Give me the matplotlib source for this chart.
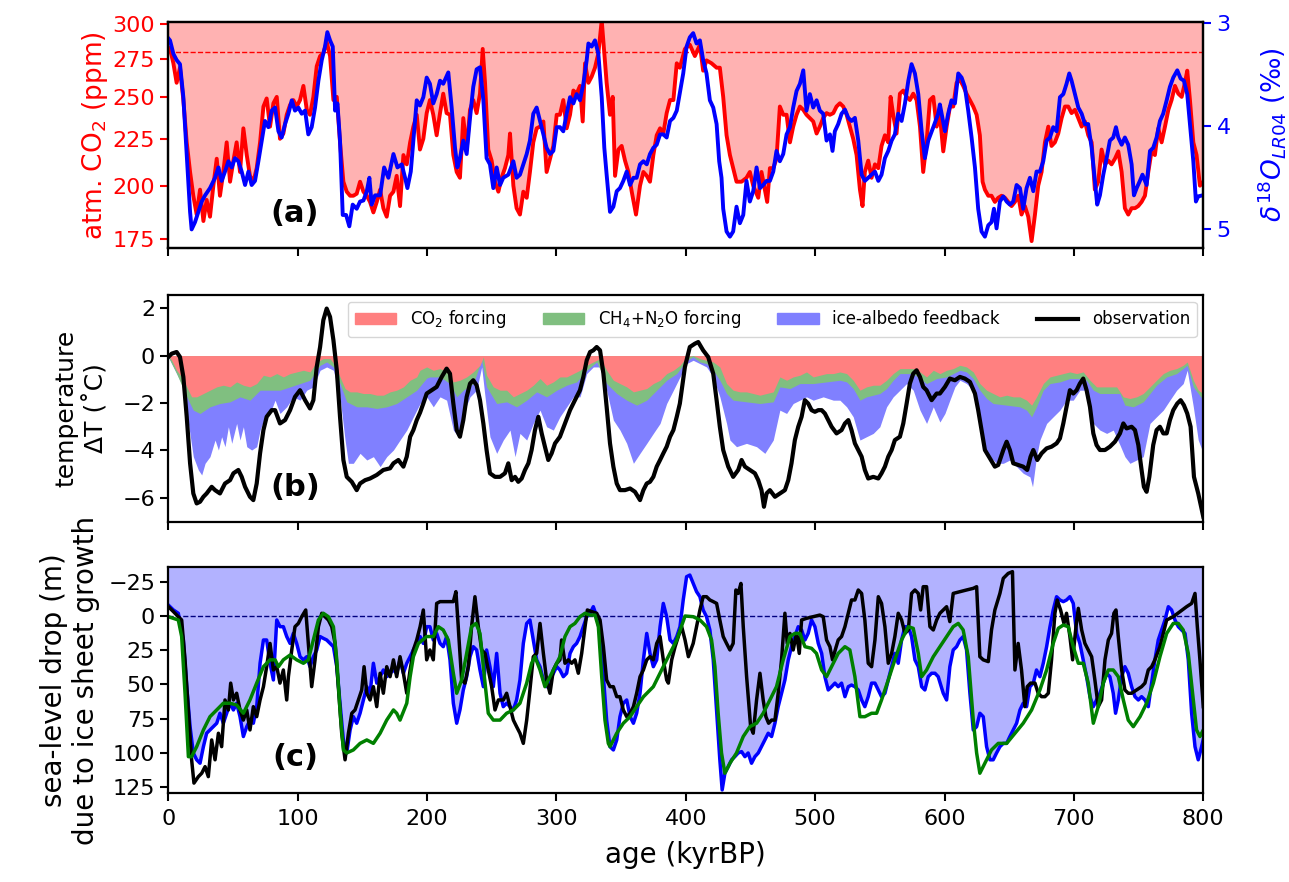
import numpy as np
import matplotlib
matplotlib.use("Agg")
import matplotlib.pyplot as plt
from matplotlib.ticker import NullLocator, FixedLocator, FixedFormatter
from matplotlib.patches import Patch
from matplotlib.lines import Line2D

# ---------------- panel (a): atmospheric CO2 (ppm) ----------------
co2_ppm = [
(0,283),(1.3,282),(3.9,272),(6.4,259),(9.0,269),(11.6,248),(14.2,223),(16.8,207),(19.3,195),(21.9,186),
(24.5,198),(27.1,183),(29.6,193),(32.2,185),(34.8,200),(37.4,214),(39.9,195),(42.5,207),(45.1,223),(47.7,202),
(50.3,213),(52.8,223),(55.4,207),(58.0,231),(60.6,216),(63.1,205),(65.7,202),(68.3,209),(70.9,223),(73.5,244),
(76.0,249),(78.6,232),(81.2,246),(83.8,250),(86.3,225),(88.9,228),(91.5,239),(94.1,245),(96.6,248),(99.2,244),
(101.8,248),(104.4,257),(107.0,242),(109.5,239),(112.1,250),(114.7,270),(117.3,277),(119.8,279),(122.4,287),(125.0,277),
(127.6,248),(130.2,250),(132.7,223),(135.3,202),(137.9,197),(140.5,195),(143.0,195),(145.6,196),(148.2,202),(150.8,197),
(153.4,195),(155.9,192),(158.5,187),(161.1,192),(163.7,198),(166.2,189),(168.8,185),(171.4,195),(174.0,197),(176.5,205),
(179.1,190),(181.7,216),(184.3,211),(186.9,223),(189.4,232),(192.0,239),
(194.5,219),(197.1,225),(199.7,240),(202.2,248),(204.8,239),(207.4,227),(210.0,240),(212.5,252),(215.1,240),(217.7,239),
(220.3,216),(222.9,207),(225.4,204),(228.0,237),(230.6,219),(233.2,242),(235.7,248),(238.3,240),(240.9,252),(243.0,282),
(244.8,259),(247.3,219),(249.9,213),(252.5,202),(255.1,197),(257.6,204),(260.2,209),(262.8,216),(264.1,228),(266.7,200),
(269.2,189),(271.8,186),(274.4,197),(277.0,194),(279.5,207),(282.1,223),(284.7,231),(287.3,232),(289.9,235),(292.4,207),
(295.0,214),(297.6,221),(300.2,239),(302.7,239),(305.3,248),(307.9,231),(310.5,239),(313.1,254),(315.6,252),(318.2,257),
(320.3,235),(322.1,272),(324.7,259),(327.2,263),(329.8,269),(332.4,279),(335.0,303),(336.3,287),(338.8,259),(341.4,239),
(343.5,250),(345.3,205),(347.9,219),(350.4,221),(353.0,213),(355.6,207),(358.2,197),(361.5,186),(364.6,200),(367.2,207),
(369.8,205),(372.3,202),(374.9,216),(377.5,227),(380.1,231),(382.6,228),(385.2,240),(387.8,248),(390.4,248),(393.0,272),
(395.4,269),(399.3,282),(403.1,285),(407.0,277),(410.9,285),(413.4,267),(416.0,274),(419.9,272),(423.8,269),(426.3,269),
(428.9,250),(431.5,227),(434.1,216),(436.6,209),(439.2,202),(443.1,202),(446.9,204),(449.5,207),(452.1,200),(456.0,194),
(458.5,207),(461.1,198),(462.9,192),(465.0,209),(467.6,209),(470.1,214),(472.7,244),(475.3,239),(477.9,239),(480.5,223),
(483.0,232),(485.6,239),(488.2,244),(490.8,242),(493.3,239),(495.9,237),(498.5,235),(501.1,228),(503.6,232),(506.2,237),
(508.8,240),(511.4,239),(514.0,240),(516.5,244),(519.1,246),(521.7,244),(524.3,239),(526.8,232),(529.4,225),(532.0,216),
(534.6,198),(536.6,190),(538.4,207),(541.0,213),(543.6,204),(546.2,211),(548.8,209),(551.3,221),(553.9,227),(556.5,223),
(558.3,250),(560.3,239),(562.9,228),(565.5,252),(568.1,254),(570.7,250),(573.2,248),(575.8,252),(578.4,248),(581.0,232),
(583.5,207),(586.1,223),(588.7,248),(591.3,250),(593.9,232),
(596.4,239),(599.0,218),(601.6,232),(604.2,244),(606.7,244),(609.3,259),(611.9,261),(614.4,257),(617.0,252),(619.6,248),
(622.2,244),(624.8,239),(627.3,227),(629.4,202),(631.2,198),(633.8,195),(636.3,195),(638.9,192),(641.5,194),(644.1,195),
(646.7,194),(649.2,192),(651.8,190),(654.4,192),(657.0,195),(659.5,186),(662.1,190),(664.7,185),(667.3,174),(669.9,186),
(672.4,200),(675.0,207),(677.6,223),(680.2,232),(682.7,221),(685.3,223),(687.9,228),(690.5,237),(693.1,244),(695.6,244),
(698.2,240),(700.8,242),(703.4,237),(706.0,232),(708.5,235),(711.1,227),(713.7,223),(716.2,198),(718.8,202),(721.4,219),
(724.0,211),(726.6,213),(729.1,211),(731.7,214),(734.3,218),(736.9,207),(739.4,189),(742.0,186),(744.6,189),(747.2,189),
(749.7,190),(752.3,192),(754.9,195),(757.5,207),(760.0,218),(762.6,216),(765.2,231),(767.8,223),(770.4,232),(773.0,242),
(775.5,248),(778.1,257),(780.7,252),(783.3,250),(785.8,259),(787.6,267),(789.7,248),(792.3,223),(794.8,216),(797.4,200),
(800.0,202)]

# ---------------- panel (a): benthic d18O LR04 (permil) ----------------
d18o_lr04 = [
(0,3.15),(1.3,3.17),(3.9,3.3),(6.4,3.36),(9.0,3.4),(11.6,3.72),(14.2,4.27),(16.8,4.83),(18.0,5.0),(20.6,4.93),
(23.2,4.83),(25.8,4.73),(28.4,4.67),(32.2,4.6),(36.1,4.5),(38.7,4.4),(41.2,4.53),(43.8,4.44),(46.4,4.34),(49.0,4.4),
(51.5,4.31),(54.1,4.34),(56.7,4.44),(59.3,4.57),(61.9,4.44),(64.4,4.57),(67.0,4.53),(69.6,4.34),(72.2,4.14),(74.7,3.95),
(77.3,4.01),(79.9,3.85),(82.5,3.82),(85.1,4.05),(87.6,4.11),(90.2,3.98),(92.8,3.88),(95.4,3.75),(97.9,3.85),(100.5,3.82),
(103.1,3.88),(105.7,3.85),(108.2,4.08),(110.8,4.01),(113.4,3.82),(116.0,3.56),(118.6,3.36),(121.1,3.23),(122.9,3.09),(125.0,3.17),
(127.1,3.23),(128.9,3.85),(130.7,3.78),(132.7,4.14),(134.8,4.86),(137.4,4.86),(139.9,4.97),(142.5,4.76),(145.6,4.8),(148.2,4.73),
(150.8,4.72),(153.4,4.63),(155.4,4.5),(157.2,4.76),(159.8,4.67),(163.7,4.67),(166.8,4.4),(170.1,4.5),(174.0,4.27),(177.1,4.4),
(180.4,4.37),(183.0,4.5),(184.8,4.6),(187.4,4.44),(189.4,4.14),(192.0,3.75),
(194.5,3.8),(197.1,3.72),(199.7,3.53),(202.2,3.59),(204.8,3.78),(207.4,3.69),(210.0,3.56),(212.5,3.59),(216.4,3.48),(219.0,3.82),
(221.6,4.21),(223.4,4.4),(225.4,4.31),(228.0,4.14),(230.6,4.27),(233.2,3.92),(235.7,3.62),(238.3,3.45),(240.9,3.43),(243.5,3.75),
(246.0,4.31),(248.6,4.37),(251.2,4.6),(253.8,4.4),(256.4,4.57),(258.9,4.5),(262.8,4.47),(266.7,4.34),(269.2,4.5),(271.8,4.47),
(274.4,4.37),(277.0,4.27),(279.5,4.14),(282.1,3.88),(284.7,3.82),(287.3,3.95),(289.9,4.08),(292.4,4.21),(295.0,4.27),(297.6,4.24),
(300.2,4.01),(302.7,4.01),(305.3,4.05),(307.9,3.88),(310.5,3.72),(313.1,3.78),(315.6,3.69),(318.2,3.75),(320.8,3.59),(323.4,3.36),
(324.7,3.2),(327.2,3.23),(329.8,3.17),(332.4,3.3),(335.0,3.72),(337.0,4.21),(338.8,4.47),(341.4,4.83),(344.0,4.78),(346.6,4.63),
(349.1,4.6),(351.7,4.53),(354.3,4.44),(356.9,4.57),(359.5,4.5),(362.0,4.5),(364.6,4.37),(367.2,4.34),(369.8,4.37),(372.3,4.27),
(374.9,4.21),(377.5,4.18),(380.1,4.08),(382.6,4.08),(385.2,4.11),(387.8,3.95),(390.4,3.92),(393.0,3.85),
(398.0,3.49),(400.6,3.23),(403.1,3.14),(405.7,3.1),(408.3,3.2),(410.9,3.17),(413.4,3.36),(416.0,3.49),(418.6,3.75),(421.2,3.82),
(423.8,3.98),(425.8,4.34),(427.6,4.5),(428.9,4.8),(431.5,5.02),(434.1,5.07),(436.6,5.02),(439.2,4.78),(441.8,4.94),(444.4,4.86),
(446.9,4.53),(449.5,4.73),(452.1,4.63),(454.7,4.4),(457.3,4.6),(459.8,4.57),(462.4,4.53),(465.0,4.53),(467.6,4.44),(470.1,4.24),
(472.7,4.34),(475.3,4.27),(477.9,4.08),(480.5,4.01),(483.0,3.82),(485.6,3.66),(488.2,3.59),(490.8,3.46),(493.3,3.85),(495.9,3.69),
(498.5,3.82),(501.1,3.75),(503.6,3.85),(506.2,3.88),(508.8,4.14),(511.4,4.08),(513.4,4.24),(515.2,4.05),(517.8,3.98),(520.4,3.88),
(523.0,3.84),(525.6,3.92),(528.1,3.95),(530.7,3.92),(533.3,4.14),(535.9,4.47),(538.4,4.53),(541.0,4.5),(543.6,4.47),(546.2,4.44),
(548.8,4.53),(551.3,4.47),(553.9,4.31),(556.5,4.24),(559.1,4.14),(561.6,4.08),(564.2,3.88),(566.8,3.95),(569.4,3.78),(572.0,3.56),
(574.5,3.4),(577.1,3.49),(579.7,3.69),(582.3,4.05),(584.8,4.31),(587.4,4.14),(591.3,4.01),(595.1,3.88),
(596.4,3.79),(600.3,4.05),(602.8,3.88),(605.4,3.75),(608.0,3.78),(610.6,3.49),(613.2,3.53),(615.7,3.62),(618.3,3.85),(620.9,4.11),
(623.5,4.4),(626.0,4.8),(628.6,5.02),(631.2,5.07),(633.8,4.96),(636.3,4.93),(638.2,4.8),(640.2,4.99),(642.8,4.73),(645.4,4.68),
(648.0,4.73),(650.5,4.76),(653.1,4.73),(655.7,4.57),(658.3,4.6),(660.8,4.8),(663.4,4.6),(666.0,4.5),(668.6,4.63),(671.1,4.44),
(673.7,4.44),(676.3,4.34),(678.9,4.14),(681.5,4.11),(684.0,4.01),(686.6,4.05),(689.2,3.72),(691.8,3.69),(694.3,3.59),(696.4,3.49),
(698.2,3.56),(700.8,3.69),(703.4,3.82),(706.0,3.88),(708.5,3.98),(711.0,3.98),(713.7,4.21),(716.2,4.53),(718.0,4.76),(720.1,4.67),
(722.7,4.47),(725.3,4.31),(727.8,4.14),(730.4,4.11),(732.5,4.01),(734.3,4.11),(736.9,4.18),(739.4,4.11),(742.0,4.18),(744.6,4.37),
(746.4,4.67),(748.5,4.6),(751.0,4.53),(753.0,4.47),(756.2,4.57),(758.8,4.24),(761.3,4.21),(763.9,4.11),(766.5,3.95),(769.0,3.88),
(771.7,3.75),(774.2,3.62),(776.8,3.53),(779.9,3.46),(782.5,3.54),(785.0,3.56),(787.6,3.69),(790.2,4.05),(792.3,4.34),(794.3,4.73),
(796.1,4.68),(799.5,4.67),(800.0,4.67)]

# ---------------- panel (b): temperature (deg C) ----------------
# cumulative lower edges of the stacked contributions
dT_co2_edge = [
(0,0),(2.6,-0.2),(6.4,-0.62),(10.3,-0.9),(14.2,-1.32),(18.0,-1.74),(21.9,-1.74),(27.1,-1.6),(32.2,-1.46),(37.4,-1.32),
(42.5,-1.25),(47.7,-1.32),(52.8,-1.11),(58.0,-1.25),(63.1,-1.32),(68.3,-1.18),(73.5,-0.83),(78.6,-0.9),(83.8,-0.76),(88.9,-0.9),
(94.1,-0.76),(99.2,-0.69),(104.4,-0.62),(109.5,-0.69),(114.7,-0.27),(119.8,-0.13),(125.0,-0.13),(128.9,-0.41),(132.7,-0.9),(136.6,-1.39),
(140.5,-1.53),(145.6,-1.53),(150.8,-1.6),(155.9,-1.6),(161.1,-1.67),(166.2,-1.67),(171.4,-1.53),(176.5,-1.46),(181.7,-1.32),(186.9,-1.04),
(192.0,-0.9),(194.5,-0.62),(199.7,-0.48),(204.8,-0.62),(210.0,-0.55),(215.1,-0.69),(220.3,-1.11),(225.4,-1.04),(230.6,-0.9),(235.7,-0.69),
(240.9,-0.41),(243.5,-0.06),(246.0,-0.83),(251.2,-1.32),(256.4,-1.46),(261.5,-1.46),(266.7,-1.74),(271.8,-1.6),(277.0,-1.46),(282.1,-1.25),
(287.3,-0.97),(292.4,-1.25),(297.6,-1.11),(302.7,-0.9),(307.9,-0.9),(313.1,-0.76),(318.2,-0.62),(323.4,-0.41),(328.5,-0.27),(333.7,-0.13),
(338.8,-0.62),(344.0,-1.04),(349.1,-1.18),(354.3,-1.32),(359.5,-1.53),(364.6,-1.46),(369.8,-1.39),(374.9,-1.18),(380.1,-1.04),(385.2,-0.76),
(390.4,-0.62),(395.5,-0.41),(400.6,-0.06),(405.7,0.0),(410.9,-0.13),(416.0,-0.2),(421.2,-0.27),(426.3,-0.48),(431.5,-1.18),(436.6,-1.46),
(441.8,-1.53),(446.9,-1.53),(452.1,-1.6),(457.3,-1.67),(462.4,-1.6),(467.6,-1.53),(472.7,-0.9),(477.9,-1.04),(483.0,-0.9),(488.2,-0.83),
(493.3,-0.69),(498.5,-0.9),(503.6,-0.83),(508.8,-0.76),(514.0,-0.76),(519.1,-0.69),(524.3,-0.76),(529.4,-1.04),(534.6,-1.46),(539.7,-1.32),
(544.9,-1.25),(550.0,-1.25),(555.2,-1.04),(560.3,-0.76),(565.5,-0.55),(570.7,-0.55),(575.8,-0.55),(581.0,-0.69),(586.1,-0.9),(591.3,-0.62),
(596.4,-0.76),(601.6,-0.62),(606.7,-0.55),(611.9,-0.41),(617.0,-0.48),(622.2,-0.69),(627.3,-1.18),(632.5,-1.46),(637.6,-1.6),(642.8,-1.74),
(648.0,-1.67),(653.1,-1.74),(658.3,-1.74),(663.4,-1.88),(667.3,-2.09),(671.1,-1.74),(676.3,-1.18),(681.5,-0.9),(686.6,-0.83),(691.8,-0.76),
(696.9,-0.69),(702.1,-0.76),(707.2,-0.69),(712.4,-1.04),(717.5,-1.32),(722.7,-1.32),(727.8,-1.32),(733.0,-1.32),(738.2,-1.74),(743.3,-1.81),
(748.5,-1.74),(753.6,-1.6),(758.8,-1.32),(763.9,-1.04),(769.1,-0.76),(774.2,-0.62),(779.4,-0.55),(784.5,-0.41),(787.6,-0.27),(792.3,-1.04),
(796.1,-1.46),(800.0,-1.6)]

dT_ghg_edge = [
(0,-0.06),(6.4,-0.76),(14.2,-1.74),(19.3,-2.3),(24.5,-2.44),(32.2,-2.16),(39.9,-2.02),(47.7,-1.95),(55.4,-1.74),(63.1,-1.88),
(70.9,-1.46),(78.6,-1.46),(86.3,-1.46),(94.1,-1.32),(101.8,-1.18),(109.5,-1.04),(117.3,-0.41),(122.4,-0.27),(127.6,-0.48),(132.7,-1.18),
(137.9,-1.95),(145.6,-2.16),(153.4,-2.16),(161.1,-2.23),(168.8,-2.16),(176.5,-2.02),(184.3,-1.74),(192.0,-1.46),(199.7,-0.95),(202.2,-0.9),
(210.0,-0.9),(217.7,-1.18),(222.9,-1.74),(228.0,-1.46),(235.7,-1.18),(242.2,-0.2),(246.0,-1.32),(253.8,-2.02),(261.5,-1.95),(269.2,-2.16),
(277.0,-1.88),(284.7,-1.53),(292.4,-1.74),(300.2,-1.46),(307.9,-1.25),(315.6,-1.11),(323.4,-0.62),(331.1,-0.27),(338.8,-1.18),(346.6,-1.6),
(354.3,-1.88),(362.0,-2.09),(369.8,-1.88),(377.5,-1.46),(385.2,-1.04),(393.0,-0.76),(400.6,-0.2),(405.7,-0.06),(410.9,-0.27),(416.0,-0.34),
(421.2,-0.62),(426.3,-1.04),(431.5,-1.6),(436.6,-1.88),(446.9,-1.95),(457.3,-2.02),(467.6,-1.95),(472.7,-1.32),(480.5,-1.39),(488.2,-1.18),
(498.5,-1.18),(508.8,-1.11),(519.1,-1.04),(524.3,-1.11),(529.4,-1.39),(534.6,-1.88),(539.7,-1.74),(550.0,-1.6),(555.2,-1.39),(560.3,-1.04),
(565.5,-0.76),(575.8,-0.76),(586.1,-1.18),(593.9,-0.97),(601.6,-0.9),(606.7,-0.76),(611.9,-0.62),(617.0,-0.69),(622.2,-0.97),(627.3,-1.46),
(632.5,-1.81),(637.6,-2.02),(648.0,-2.09),(658.3,-2.16),(663.4,-2.3),(667.3,-2.58),(671.1,-2.16),(676.3,-1.46),(681.5,-1.18),(689.2,-1.11),
(696.9,-0.97),(704.6,-0.97),(709.8,-1.04),(715.0,-1.46),(720.1,-1.6),(727.8,-1.6),(735.6,-1.6),(739.4,-2.09),(745.9,-2.16),(753.6,-1.95),
(758.8,-1.6),(763.9,-1.25),(771.7,-0.9),(779.4,-0.76),(787.6,-0.41),(792.3,-1.32),(800.0,-1.88)]

dT_ice_edge = [
(0,-0.06),(3.9,-0.48),(7.7,-0.9),(11.6,-1.32),(15.5,-2.86),(19.3,-4.26),(23.2,-4.82),(25.8,-5.03),(28.4,-4.54),(32.2,-4.26),
(36.1,-3.56),(38.7,-3.98),(41.2,-3.42),(43.8,-3.84),(46.4,-3.0),(49.0,-3.7),(52.8,-2.86),(55.4,-3.56),(58.0,-3.0),(60.6,-3.84),
(64.4,-3.98),(68.3,-3.84),(70.9,-3.14),(74.7,-2.58),(78.6,-2.44),(82.5,-1.88),(86.3,-2.44),(91.5,-2.16),(96.6,-1.74),(101.8,-1.88),
(107.0,-1.46),(112.1,-1.32),(117.3,-0.62),(122.4,-0.48),(127.6,-0.62),(132.7,-1.74),(136.6,-3.56),(139.2,-4.54),(143.0,-4.54),(148.2,-4.12),
(153.4,-4.4),(158.5,-4.26),(163.7,-4.68),(168.8,-4.26),(174.0,-3.98),(179.1,-3.56),(184.3,-3.14),(189.4,-2.58),(194.6,-2.02),(199.7,-1.74),
(204.8,-2.16),(210.0,-1.74),(215.1,-1.88),(220.3,-3.14),(224.1,-3.42),(228.0,-2.44),(233.2,-1.74),(238.3,-1.46),(242.2,-0.48),(244.8,-1.74),
(248.6,-3.42),(253.8,-4.12),(258.9,-3.56),(264.1,-3.14),(268.0,-4.26),(271.8,-3.28),(277.0,-3.56),(282.1,-2.86),(287.3,-2.3),(292.4,-3.0),
(297.6,-3.14),(302.7,-2.58),(307.9,-2.16),(313.1,-1.74),(318.2,-1.74),(323.4,-0.76),(328.5,-0.48),(333.7,-0.48),(338.8,-1.46),(344.0,-2.72),
(349.1,-3.14),(354.3,-3.7),(359.5,-4.54),(364.6,-4.12),(369.8,-3.7),(374.9,-3.28),(380.1,-2.86),(385.2,-2.02),(390.4,-1.46),(395.5,-0.9),
(400.6,-0.34),(405.7,-0.2),(410.9,-0.34),(416.0,-0.48),(421.2,-0.9),(426.3,-1.74),(431.5,-2.86),(434.1,-3.56),(439.2,-3.84),(446.9,-3.7),
(454.7,-3.84),(461.1,-4.12),(467.6,-3.56),(472.7,-2.3),(477.9,-2.44),(483.0,-2.02),(488.2,-1.88),(493.3,-1.74),(498.5,-1.88),(506.2,-1.74),
(514.0,-1.88),(519.1,-1.88),(524.3,-2.16),(529.4,-2.58),(534.6,-3.56),(539.7,-3.42),(544.9,-3.28),(550.0,-3.0),(555.2,-2.16),(560.3,-1.74),
(565.5,-1.46),(570.7,-1.18),(575.8,-1.46),(581.0,-2.3),(586.1,-2.86),(591.3,-2.16),(596.4,-2.8),(600.3,-2.44),(604.1,-1.88),(608.0,-1.32),
(611.9,-1.04),(617.0,-1.18),(622.2,-1.46),(627.3,-2.58),(631.2,-3.98),(635.1,-4.26),(640.2,-4.54),(645.4,-4.54),(650.5,-4.4),(655.7,-4.68),
(660.8,-4.96),(666.0,-5.11),(668.0,-5.53),(671.1,-4.26),(673.7,-3.56),(678.9,-2.86),(684.0,-2.58),(689.2,-2.3),(694.3,-1.88),(699.5,-1.88),
(704.6,-1.46),(709.8,-1.46),(715.0,-2.86),(720.1,-3.14),(725.3,-3.28),(730.4,-3.14),(735.6,-3.77),(739.4,-4.26),(743.3,-4.54),(748.5,-4.4),
(753.6,-4.26),(758.8,-2.86),(763.9,-2.58),(769.1,-2.3),(774.2,-1.88),(779.4,-1.46),(784.5,-1.18),(787.6,-0.62),(792.3,-2.16),(796.1,-3.56),
(800.0,-4.12)]

dT_observation = [
(0,-0.06),(2.6,0.08),(6.4,0.15),(9.0,-0.06),(11.6,-0.9),(14.2,-2.58),(16.8,-4.54),(19.3,-5.81),(21.9,-6.23),(24.5,-6.16),
(27.1,-5.95),(29.6,-5.81),(33.5,-5.53),(36.1,-5.67),(39.9,-5.81),(43.8,-5.39),(47.7,-5.25),(50.3,-4.96),(54.1,-4.82),(56.7,-5.11),
(59.3,-5.53),(63.1,-5.95),(65.7,-6.09),(68.3,-5.39),(70.9,-4.12),(73.5,-3.14),(76.0,-2.58),(79.9,-2.3),(82.5,-2.3),(86.3,-2.86),
(90.2,-2.72),(94.1,-2.3),(97.9,-1.74),(101.8,-1.46),(105.7,-1.88),(109.5,-2.23),(112.1,-1.88),(114.7,-0.48),(117.3,0.36),(119.8,1.49),
(122.4,1.98),(125.0,1.63),(127.6,0.65),(130.2,-0.62),(132.7,-2.58),(135.3,-4.4),(137.9,-5.11),(141.8,-5.32),(145.6,-5.67),(148.2,-5.39),
(152.1,-5.25),(155.9,-5.18),(161.1,-5.03),(166.2,-4.82),(171.4,-4.75),(174.0,-4.54),(177.8,-4.4),(181.7,-4.68),(184.3,-4.26),(186.9,-3.42),
(189.4,-3.14),(192.0,-2.72),(194.6,-2.4),(197.1,-2.02),(199.7,-1.6),(203.5,-1.46),(207.4,-1.32),(211.3,-0.9),(215.1,-0.55),(217.7,-0.76),
(220.3,-2.02),(222.9,-3.14),(225.4,-3.42),(228.0,-2.72),(230.6,-1.74),(233.2,-1.18),(235.7,-1.04),(238.3,-1.25),(240.9,-1.88),(243.5,-2.86),
(246.0,-3.98),(248.6,-4.96),(252.5,-5.11),(256.4,-5.11),(260.2,-4.96),(262.8,-4.54),(265.4,-5.25),(268.0,-5.11),(270.5,-5.32),(273.1,-5.18),
(275.7,-4.82),(278.3,-4.54),(280.8,-3.98),(283.4,-3.14),(286.0,-2.58),(288.6,-3.28),(291.1,-3.84),(293.7,-4.4),(296.3,-4.12),(298.9,-3.7),
(302.7,-3.42),(306.6,-2.86),(310.5,-2.3),(314.3,-1.88),(318.2,-1.46),(320.8,-0.9),(323.4,-0.2),(326.0,0.15),(328.5,0.22),(331.1,0.36),
(333.7,0.22),(336.3,-0.76),(338.8,-2.16),(341.4,-3.7),(344.0,-4.68),(346.6,-5.39),(349.1,-5.67),(353.0,-5.67),(356.9,-5.6),(360.7,-5.74),
(364.6,-6.09),(367.2,-5.67),(369.8,-5.39),(372.3,-5.32),(374.9,-5.11),(377.5,-4.68),(380.1,-4.4),(382.6,-4.12),(385.2,-3.84),(387.8,-3.42),
(390.4,-3.14),(393.0,-2.58),(395.4,-2.02),(399.3,-0.48),(403.1,0.36),(407.0,0.5),(409.6,0.57),(413.4,0.22),(417.3,-0.06),(421.2,-0.76),
(423.8,-1.88),(426.3,-3.0),(428.9,-3.98),(432.8,-4.68),(436.6,-5.11),(440.5,-4.82),(443.1,-4.4),(445.7,-4.68),(449.5,-4.82),(453.4,-4.96),
(456.0,-5.25),(458.5,-5.67),(460.4,-6.37),(462.4,-5.81),(465.0,-5.67),(468.9,-5.95),(472.7,-5.81),(476.6,-5.67),(479.2,-5.25),(481.7,-4.54),
(484.3,-3.56),(486.9,-3.0),(489.5,-2.58),(492.0,-1.88),(494.6,-2.02),(497.2,-2.3),(499.8,-2.37),(502.4,-2.3),(505.0,-2.3),(507.5,-2.44),
(510.1,-2.72),(512.7,-3.0),(516.5,-3.28),(520.4,-3.14),(523.0,-2.86),(525.6,-2.72),(528.1,-3.14),(530.7,-3.7),(533.3,-3.98),(535.9,-4.26),
(538.4,-4.82),(541.0,-5.18),(544.9,-5.11),(548.8,-5.18),(551.3,-4.96),(553.9,-4.68),(556.5,-4.26),(559.1,-3.98),(561.6,-3.56),(565.5,-3.42),
(568.1,-2.86),(570.7,-2.02),(573.2,-1.18),(575.8,-0.76),(578.4,-0.62),(581.0,-0.9),(583.5,-1.32),(586.1,-1.46),(590.0,-1.88),(593.9,-1.6),
(596.4,-1.6),(600.3,-1.32),(604.1,-0.97),(608.0,-1.04),(611.9,-0.9),(615.7,-0.97),(619.6,-1.11),(623.5,-1.6),(626.0,-2.3),(628.6,-3.14),
(631.2,-3.98),(635.1,-4.33),(638.9,-4.68),(641.5,-4.61),(645.4,-3.98),(648.0,-3.63),(650.5,-3.98),(653.1,-4.54),(657.0,-4.61),(660.8,-4.68),
(663.9,-4.82),(666.5,-4.26),(668.6,-3.98),(671.7,-4.4),(675.0,-4.12),(678.9,-3.91),(682.7,-3.84),(686.6,-3.7),(689.2,-3.49),(691.8,-2.86),
(694.3,-2.16),(696.9,-1.46),(699.5,-1.6),(702.1,-1.46),(704.6,-1.18),(707.2,-0.97),(709.8,-1.46),(712.4,-2.16),(715.0,-3.28),(717.5,-3.77),
(720.1,-3.98),(724.0,-3.98),(727.8,-3.84),(731.7,-3.63),(735.6,-3.28),(738.2,-2.86),(740.7,-3.07),(744.6,-3.0),(747.2,-3.14),(749.8,-3.77),
(752.3,-4.82),(754.1,-5.53),(756.2,-5.74),(758.3,-5.11),(761.3,-3.77),(763.9,-3.14),(766.5,-3.0),(769.1,-3.28),(771.7,-3.28),(774.2,-2.72),
(776.8,-2.3),(779.9,-2.02),(782.5,-1.88),(785.0,-2.09),(787.6,-2.44),(790.2,-3.0),(792.8,-5.11),(796.1,-5.81),(800.0,-6.79)]

# ---------------- panel (c): sea-level drop (m) ----------------
sl_blue = [
(0,-8),(3.9,-4.4),(7.7,-2),(11.6,17.5),(14.2,51.6),(16.8,80.8),(19.3,100),(21.9,105),(24.5,107.5),(27.1,95.4),
(29.6,85.6),(32.2,83.2),(34.8,80.8),(37.4,78.3),(39.9,71),(42.5,78.3),(45.1,71),(47.7,63.7),(50.3,68.6),(52.8,63.7),
(55.4,73.5),(58.0,88),(60.6,80.8),(63.1,76),(65.7,78.3),(68.3,66.2),(70.9,34.5),(73.5,17.5),(76.0,17.5),(78.6,34.5),
(81.2,46.7),(83.8,2.9),(86.3,7.8),(88.9,7.8),(91.5,15),(94.1,20),(96.6,12.7),(99.2,20),(101.8,29.7),(104.4,32),
(107.0,29.7),(109.5,37),(112.1,29.7),(114.7,24.8),(117.3,15),(119.8,16.3),(122.4,17.5),(125.0,20),(127.6,22.4),(130.2,37),
(132.7,63.7),(135.3,90.5),(137.9,100),(140.5,83.2),(143.0,73.5),(145.6,78.3),(148.2,71),(150.8,61.3),(153.4,51.6),(155.9,56.4),
(158.5,34.5),(161.1,49),(163.7,44.3),(166.2,39.4),(168.8,44.3),(171.4,41.8),(174.0,39.4),(176.5,41.8),(179.1,32),(181.7,41.8),
(184.3,34.5),(186.9,29.7),(189.4,24.8),(192.0,20),(194.6,15),(197.1,20),(199.7,7.8),(202.2,7.8),(204.8,17.5),(207.4,12.7),
(210.0,20),(212.5,22.4),(215.1,15),(217.7,32),(220.3,63.7),(222.9,78.3),(225.4,68.6),(228.0,54),(230.6,44.3),(233.2,29.7),
(235.7,22.4),(238.3,24.8),(240.9,39.4),(243.5,51.6),(246.0,24.8),(248.6,37),(251.2,51.6),(253.8,27.3),(256.4,56.4),(258.9,66.2),
(261.5,63.7),(264.1,66.2),(266.7,68.6),(269.2,61.3),(271.8,46.7),(274.4,20),(277.0,5.4),(279.5,2.9),(282.1,17.5),(284.7,32),
(287.3,37),(289.9,46.7),(292.4,51.6),(295.0,46.7),(297.6,41.8),(300.2,37),(302.7,39.4),(305.3,44.3),(307.9,41.8),(310.5,27.3),
(313.1,22.4),(315.6,20),(318.2,15),(320.8,7.8),(323.4,0.5),(326.0,-2),(328.5,-6.8),(331.1,0.5),(333.7,12.7),(336.3,44.3),
(338.8,76),(341.4,95.4),(344.0,97.8),(346.6,90.5),(349.1,73.5),(351.7,63.7),(354.3,61.3),(356.9,73.5),(359.5,78.3),(362.0,71),
(364.6,56.4),(367.2,32),(369.8,12.7),(372.3,27.3),(374.9,37),(377.5,32),(380.1,7.8),(382.6,-9.2),(385.2,0.5),(387.8,17.5),
(390.4,20),(393.0,15),(395.5,7.8),(398.0,-11.7),(400.6,-28.7),(403.1,-29.9),(405.7,-23.8),(408.3,-17.8),(410.9,-14.1),(413.4,-4.4),
(416.0,0.5),(418.6,10.2),(421.2,32),(423.8,68.6),(426.3,105),(428.1,127),(430.2,114.8),(432.8,110),(435.4,105),(437.9,102.7),
(440.5,100),(443.1,99),(445.7,102.7),(448.2,100),(450.8,107.5),(453.4,102.7),(456.0,100),(458.5,95.4),(461.1,90.5),(463.7,85.6),
(466.3,88),(468.9,78.3),(471.4,66.2),(474.0,56.4),(476.6,46.7),(479.2,32),(481.7,22.4),(484.3,15),(486.9,7.8),(489.5,10.2),
(492.1,17.5),(494.6,12.7),(497.2,2.9),(499.8,7.8),(502.4,20),(505.0,27.3),(507.5,44.3),(510.1,54),(512.7,51.6),(515.3,49),
(517.8,51.6),(520.4,49),(523.0,58.9),(525.6,51.6),(528.1,50.4),(530.7,51.6),(533.3,54),(535.9,61.3),(538.4,66.2),(541.0,58.9),
(543.6,49),(546.2,49),(548.8,54),(551.3,58.9),(553.9,56.4),(556.5,46.7),(559.1,37),(561.6,27.3),(564.2,34.5),(566.8,17.5),
(569.4,7.8),(572.0,7.8),(574.5,15),(577.1,32),(579.7,37),(582.3,51.6),(584.8,54),(587.4,44.3),(590.0,41.8),(592.6,41.8),
(595.1,44.3),(599.0,56.4),(601.6,61.3),(604.1,37),(606.7,24.8),(609.3,22.4),(611.9,17.5),(614.4,15),(617.0,24.8),(619.6,56.4),
(622.2,83.2),(624.8,80.8),(627.3,71),(629.9,73.5),(632.5,95.4),(635.1,105),(637.6,105),(640.2,100),(642.8,95.4),(645.4,93),
(648.0,93),(650.5,88),(653.1,83.2),(655.7,78.3),(658.3,68.6),(660.8,63.7),(663.4,66.2),(666.0,51.6),(668.6,49),(671.1,39.4),
(673.7,44.3),(676.3,34.5),(678.9,22.4),(681.5,7.8),(684.0,-4.4),(686.6,-14.1),(689.2,-11.7),(691.8,-10.5),(694.3,-11.7),(696.9,-14.1),
(699.5,-9.2),(702.1,12.7),(704.6,20),(707.2,32),(709.8,44.3),(712.4,58.9),(715.0,66.2),(717.5,61.3),(720.1,56.4),(722.7,49),
(725.3,41.8),(727.8,44.3),(730.4,56.4),(732.2,71),(734.3,61.3),(736.9,44.3),(739.4,37),(742.0,41.8),(744.6,51.6),(747.2,58.9),
(749.8,61.3),(752.3,58.9),(754.9,61.3),(757.5,66.2),(760.1,49),(762.6,32),(765.2,17.5),(767.8,10.2),(770.4,2.9),(773.0,-6.8),
(775.5,-4.4),(778.1,2.9),(780.7,7.8),(783.3,10.2),(785.9,12.7),(788.4,32),(791.0,71),(793.6,95.4),(796.1,105),(798.7,95.4),
(800.0,90)]

sl_black = [
(0,-6.8),(3.9,-3.2),(7.7,0.5),(10.3,2.9),(12.9,32),(15.5,68.6),(18.0,105),(19.8,122),(23.2,117.3),(25.8,114.8),
(28.4,110),(30.9,117.3),(33.5,90.5),(36.1,105),(38.7,85.6),(41.2,95.4),(43.8,61.3),(46.4,68.6),(48.2,49),(50.3,61.3),
(52.8,56.4),(55.4,68.6),(58.0,76),(60.6,68.6),(63.1,83.2),(65.7,66.2),(68.3,73.5),(70.9,61.3),(73.5,51.6),(76.0,37),
(78.6,20),(81.2,39.4),(83.8,37),(86.3,49),(88.9,39.4),(91.5,61.3),(92.8,44.3),(95.4,24.8),(97.9,7.8),(100.5,5.4),
(103.1,0.5),(106.2,-4.4),(108.2,20),(110.8,51.6),(113.4,32),(116.0,7.8),(118.6,-2),(121.1,0.5),(123.7,2.9),(126.3,7.8),
(128.9,20),(131.4,51.6),(134.0,85.6),(136.6,105),(139.2,85.6),(141.8,71),(144.3,68.6),(146.9,61.3),(149.5,54),(151.3,37),
(153.4,56.4),(155.9,61.3),(158.5,51.6),(161.1,66.2),(163.7,41.8),(166.2,56.4),(168.8,37),(171.4,44.3),(174.0,32),(176.5,44.3),
(179.1,29.7),(181.7,41.8),(184.3,56.4),(186.9,39.4),(189.4,24.8),(192.0,17.5),(194.6,7.8),(197.1,-4.4),(199.7,32),(202.2,24.8),
(204.8,32),(207.4,-9.2),(210.0,-10.5),(215.1,-10.5),(220.3,-10.5),(222.3,-17.8),(224.1,7.8),(226.7,46.7),(229.3,49),(231.9,37),
(234.4,7.8),(237.0,-14.1),(239.6,7.8),(242.2,24.8),(244.8,27.3),(247.3,39.4),(249.9,51.6),(252.5,68.6),(255.1,61.3),(259.0,61.3),
(261.5,56.4),(264.1,66.2),(266.7,76),(269.2,80.8),(271.8,85.6),(274.4,93),(277.0,76),(279.5,54),(282.1,29.7),(284.7,27.3),
(287.3,5.4),(289.9,27.3),(292.4,46.7),(295.0,56.4),(297.6,39.4),(300.2,34.5),(302.7,32),(304.0,17.5),(306.6,34.5),(309.2,32),
(311.8,34.5),(314.3,32),(316.9,41.8),(319.5,27.3),(322.1,7.8),(323.9,-4.4),(327.2,-3.2),(331.1,-2),(333.7,2.9),(336.3,22.4),
(338.8,46.7),(341.4,51.6),(344.0,51.6),(346.6,58.9),(349.1,58.9),(351.7,68.6),(354.3,73.5),(356.9,71),(359.5,66.2),(362.0,56.4),
(364.6,44.3),(367.2,39.4),(369.8,32),(372.3,29.7),(374.9,32),(377.5,20),(380.1,15),(382.6,32),(385.2,46.7),(386.5,49),
(389.1,32),(391.7,22.4),(394.2,15),(396.8,7.8),(399.4,17.5),(402.0,29.7),(405.7,20),(408.3,7.8),(410.9,-4.4),(413.4,-14.1),
(416.0,-14.1),(418.6,-11.7),(421.2,-10.5),(423.8,-9.2),(426.3,2.9),(428.9,15),(431.5,20),(434.1,24.8),(436.6,20),(438.7,-19),
(440.5,-16.5),(442.6,-23.8),(444.4,7.8),(447.0,44.3),(450.1,80.8),(452.1,85.6),(454.7,61.3),(457.3,41.8),(459.8,61.3),(461.9,73.5),
(464.0,78.3),(466.3,76),(468.9,76),(471.4,56.4),(474.0,32),(476.6,-2),(478.4,20),(480.5,12.7),(483.0,24.8),(485.6,12.7),
(487.7,27.3),(489.5,2.9),(493.3,1.7),(498.5,0.5),(503.6,-0.7),(506.2,0.5),(508.8,17.5),(511.4,22.4),(513.4,32),(515.5,24.8),
(517.8,17.5),(520.4,15),(523.0,7.8),(525.6,-2),(528.1,-11.7),(530.7,-11.7),(533.3,-19),(535.9,-16.5),(538.4,2.9),(541.0,34.5),
(543.6,37),(546.2,17.5),(548.8,-14.1),(551.3,-9.2),(553.9,7.8),(556.5,34.5),(559.1,27.3),(561.6,15),(564.2,-2),(566.8,2.9),
(569.4,12.7),(572.0,10.2),(574.5,-16.5),(577.1,-19),(579.7,-16.5),(581.5,-4.4),(583.5,-21.4),(586.1,-21.4),(588.7,7.8),(591.3,10.2),
(593.9,2.9),(596.4,-2),(599.0,-4.4),(601.6,-6.8),(604.1,4.1),(606.7,-16.5),(611.9,-17.8),(617.0,-19),(622.2,-20.2),(624.8,-21.4),
(627.3,29.7),(629.9,32),(633.8,33.3),(636.3,10.2),(638.9,-4.4),(642.8,-16.5),(645.4,-27.5),(649.2,-31.1),(652.5,-32.4),(654.4,39.4),
(656.9,20),(659.5,39.4),(662.1,66.2),(663.9,51.6),(666.5,49),(669.9,49),(672.4,56.4),(675.0,58.9),(677.6,58.9),(680.2,56.4),
(682.7,32),(685.3,-2),(687.1,-11.7),(689.7,-4.4),(692.3,5.4),(694.3,-2),(696.9,15),(699.0,32),(701.6,7.8),(703.4,-5.6),
(706.0,10.2),(708.5,20),(711.1,24.8),(713.7,29.7),(716.2,46.7),(718.8,66.2),(721.4,61.3),(724.0,32),(726.6,17.5),(729.1,12.7),
(730.9,-2),(732.5,-4.4),(734.3,15),(736.9,39.4),(739.4,54),(742.0,56.4),(744.6,56.4),(748.5,54),(752.3,51.6),(754.9,49),
(757.5,39.4),(760.1,37),(762.6,32),(766.5,22.4),(769.1,12.7),(771.7,2.9),(776.8,0.5),(782.0,-3.2),(787.1,-6.8),(791.0,-9.2),
(793.6,-16.5),(795.4,7.8),(797.4,32),(800.0,66.2)]

sl_green = [
(0,0.5),(3.9,1.7),(7.7,2.9),(10.3,15),(12.9,56.4),(15.5,102.7),(18.0,102.7),(21.9,95.4),(27.1,83.2),(32.2,73.5),
(37.4,68.6),(42.5,63.7),(47.7,63.7),(52.8,65),(58.0,71),(63.1,61.3),(68.3,49),(73.5,37),(78.6,32),(82.5,32),
(85.1,37),(88.9,32),(94.1,28.5),(99.2,32),(104.4,34.5),(108.2,32),(112.1,17.5),(116.0,2.9),(119.8,-2),(123.7,0.5),
(127.6,7.8),(130.2,32),(132.7,68.6),(135.3,97.8),(137.9,100),(143.0,97.8),(148.2,93),(153.4,90.5),(158.5,93),(163.7,85.6),
(168.8,76),(174.0,68.6),(176.5,71),(179.1,76),(184.3,63.7),(186.9,44.3),(189.4,29.7),(193.3,20),(199.7,15),(204.8,15),
(208.7,7.8),(212.5,10.2),(216.4,17.5),(220.3,41.8),(222.9,56.4),(226.7,46.7),(230.6,27.3),(234.4,7.8),(237.8,5.4),(240.9,12.7),
(244.8,49),(247.3,71),(251.2,76),(256.4,76),(261.5,71),(266.7,68.6),(271.8,63.7),(277.0,49),(280.8,34.5),(283.4,29.7),
(287.3,39.4),(291.1,51.6),(295.0,44.3),(298.9,37),(302.7,29.7),(306.6,15),(310.5,7.8),(314.3,5.4),(318.2,0.5),(322.1,-2),
(326.0,-0.7),(329.8,-0.7),(332.4,7.8),(335.0,44.3),(337.5,76),(340.1,93),(341.4,95.4),(346.6,85.6),(351.7,78.3),(356.9,73.5),
(362.0,66.2),(367.2,59),(374.9,51.6),(385.2,32),(393.0,17.5),(399.4,0),(405.7,0.5),(410.9,2.9),(416.0,7.8),(419.9,17.5),
(422.5,37),(425.0,71),(427.6,100),(430.2,114.8),(434.1,107.5),(439.2,100),(444.4,88),(449.5,80.8),(454.7,78.3),(459.8,71),
(465.0,61.3),(470.1,51.6),(475.3,32),(480.5,15),(484.3,12.7),(488.2,12.7),(492.1,22.4),(497.2,23.6),(501.0,27.3),(505.0,39.4),
(508.8,44.3),(512.7,37),(517.8,27.3),(523.0,22.4),(526.8,24.8),(530.7,44.3),(534.6,73.5),(538.4,73.5),(543.6,71),(547.5,71),
(551.3,61.3),(556.5,46.7),(561.6,32),(566.8,17.5),(572.0,7.8),(575.8,9),(579.7,27.3),(582.3,44.3),(586.1,39.4),(591.3,29.7),
(596.4,22.4),(601.6,15),(606.7,7.8),(610.6,5.4),(614.4,10.2),(618.3,29.7),(622.2,76),(624.8,100),(627.3,114.8),(631.2,107.5),
(636.3,97.8),(641.5,93),(648.0,93),(654.4,85.6),(660.8,78.3),(667.3,68.6),(673.7,54),(678.9,39.4),(684.0,20),(687.9,9),
(691.8,6.6),(695.6,7.8),(699.5,22.4),(703.4,34.5),(707.2,34.5),(711.1,49),(715.0,78.3),(718.8,66.2),(722.7,49),(726.6,39.4),
(730.4,39.4),(734.3,44.3),(738.2,61.3),(742.0,76),(745.9,80.8),(751.1,73.5),(756.2,63.7),(761.4,49),(766.5,29.7),(771.7,12.7),
(776.8,5.4),(780.7,5.4),(784.5,10.2),(788.4,27.3),(792.3,61.3),(794.8,83.2),(797.4,88),(800.0,83.2)]

co2_ticks = [175, 200, 225, 250, 275, 300]
d18o_ticks = [3, 4, 5]
dT_ticks = [-6, -4, -2, 0, 2]
sl_ticks = [-25, 0, 25, 50, 75, 100, 125]
age_ticks = [0, 100, 200, 300, 400, 500, 600, 700, 800]


def xy(pairs):
    arr = np.array(pairs, dtype=float)
    return arr[:, 0], arr[:, 1]


plt.rcParams['axes.linewidth'] = 1.6
fig = plt.figure(figsize=(12.89, 8.82), dpi=100)
L, W = 0.1306, 0.8029
axa = fig.add_axes([L, 0.7188, W, 0.2559])
axb = fig.add_axes([L, 0.4085, W, 0.2570])
axc = fig.add_axes([L, 0.1005, W, 0.2562])

TICK = 16
LAB_A = 19
LAB_B = 18
LAB_C = 20

for ax in (axa, axb, axc):
    ax.set_xlim(0, 800)
    ax.set_xticks(age_ticks)
    ax.tick_params(axis='both', which='major', length=6, width=1.5, labelsize=TICK)
axa.tick_params(axis='x', labelbottom=False)
axb.tick_params(axis='x', labelbottom=False)
axc.tick_params(axis='x', pad=5)

# ---- (a)
a_co2, v_co2 = xy(co2_ppm)
axa.set_yscale('log')
axa.fill_between(a_co2, v_co2, 400, color='red', alpha=0.3, lw=0)
axa.plot(a_co2, v_co2, color='red', lw=2.8)
axa.axhline(280, color='red', ls='--', lw=1.0)
axa.set_ylim(171, 301.5)
axa.yaxis.set_major_locator(FixedLocator(co2_ticks))
axa.yaxis.set_major_formatter(FixedFormatter([str(t) for t in co2_ticks]))
axa.yaxis.set_minor_locator(NullLocator())
axa.tick_params(axis='y', colors='red', labelcolor='red')
axa.set_ylabel('atm. CO$_2$ (ppm)', color='red', fontsize=LAB_A)
axa.yaxis.set_label_coords(-0.056, 0.5)
axa.text(0.1224, 0.155, '(a)', transform=axa.transAxes, fontsize=22,
         fontweight='bold', ha='center', va='center')

axa2 = axa.twinx()
a_d, v_d = xy(d18o_lr04)
axa2.plot(a_d, v_d, color='blue', lw=2.8)
axa2.set_ylim(5.18, 2.995)
axa2.set_yticks(d18o_ticks)
axa2.set_yticklabels([str(t) for t in d18o_ticks])
axa2.tick_params(axis='y', colors='blue', labelcolor='blue', length=6, width=1.5, labelsize=TICK)
axa2.set_ylabel(r'$\delta^{18}O_{LR04}$ (‰)', color='blue', fontsize=LAB_A)
axa2.yaxis.set_label_coords(1.05, 0.5)
axa2.set_xlim(0, 800)

# ---- (b)
a_ice, v_ice = xy(dT_ice_edge)
a_ghg, v_ghg = xy(dT_ghg_edge)
a_c, v_c = xy(dT_co2_edge)
a_obs, v_obs = xy(dT_observation)
c_co2, c_ghg, c_ice = '#ff8080', '#80bf80', '#8080ff'
axb.fill_between(a_ice, v_ice, 0, color=c_ice, lw=0)
axb.fill_between(a_ghg, v_ghg, 0, color=c_ghg, lw=0)
axb.fill_between(a_c, v_c, 0, color=c_co2, lw=0)
axb.plot(a_obs, v_obs, color='black', lw=3)
axb.set_ylim(-7, 2.55)
axb.set_yticks(dT_ticks)
axb.set_ylabel('temperature\nΔT (˚C)', fontsize=LAB_B)
axb.yaxis.set_label_coords(-0.058, 0.5)
handles = [Patch(color=c_co2), Patch(color=c_ghg), Patch(color=c_ice),
           Line2D([], [], color='black', lw=3)]
labels = ['CO$_2$ forcing', 'CH$_4$+N$_2$O forcing', 'ice-albedo feedback', 'observation']
axb.legend(handles, labels, loc='upper right', ncol=4, fontsize=12,
           handlelength=2.5, columnspacing=2.2, borderaxespad=0.4)
axb.text(0.1224, 0.149, '(b)', transform=axb.transAxes, fontsize=22,
         fontweight='bold', ha='center', va='center')

# ---- (c)
a_b, v_b = xy(sl_blue)
a_k, v_k = xy(sl_black)
a_g, v_g = xy(sl_green)
axc.fill_between(a_b, v_b, -60, color='blue', alpha=0.3, lw=0)
axc.axhline(0, color='navy', ls='--', lw=1.0)
axc.plot(a_b, v_b, color='blue', lw=2.5)
axc.plot(a_k, v_k, color='black', lw=2.5)
axc.plot(a_g, v_g, color='green', lw=2.5)
axc.set_ylim(129.5, -35.5)
axc.set_yticks(sl_ticks)
axc.set_ylabel('sea-level drop (m)\ndue to ice sheet growth', fontsize=LAB_C)
axc.yaxis.set_label_coords(-0.066, 0.5)
axc.set_xlabel('age (kyrBP)', fontsize=LAB_C, labelpad=9)
axc.text(0.1224, 0.16, '(c)', transform=axc.transAxes, fontsize=22,
         fontweight='bold', ha='center', va='center')

fig.savefig('out.png', dpi=100)
